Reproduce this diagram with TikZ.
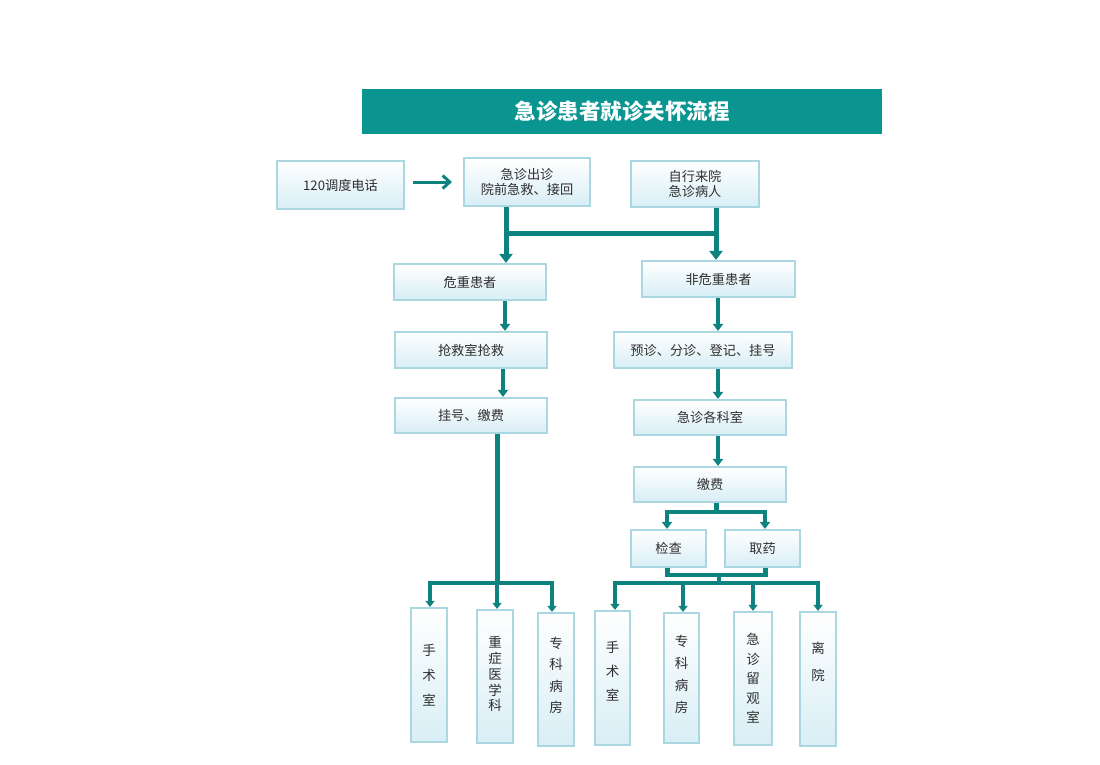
\documentclass[tikz,border=0pt]{standalone}
\usepackage{fontspec}
\setmainfont{Noto Sans CJK SC}
\usetikzlibrary{arrows.meta,calc}
\definecolor{tealline}{HTML}{0E827E}
\definecolor{titlebg}{HTML}{0B9591}
\definecolor{boxline}{HTML}{AAD7E2}
\definecolor{boxfill}{HTML}{D8EEF5}
\definecolor{txt}{HTML}{2E2E2E}
\begin{document}
\begin{tikzpicture}[x=1pt,y=-1pt,
  box/.style={draw=boxline, line width=2.2pt, top color=white, bottom color=boxfill,
    text=txt, font=\fontsize{13.2}{15.5}\selectfont, align=center, inner sep=0pt},
  vbox/.style={box, minimum width=36pt, minimum height=134pt},
  lineseg/.style={draw=tealline, line width=5pt},
  conn/.style={draw=tealline, line width=5pt, line join=miter, -{Triangle[width=13pt,length=9pt]}},
  connm/.style={draw=tealline, line width=4.5pt, line join=miter, -{Triangle[width=10pt,length=7pt]}},
  conns/.style={draw=tealline, line width=4pt, line join=miter, -{Triangle[width=9pt,length=6pt]}},
  thinarr/.style={draw=tealline, line width=3pt, -{Straight Barb[width=13pt,length=7pt,line width=3pt]}}
]
\useasboundingbox (0,0) rectangle (1100,764);

% title
\node[fill=titlebg, minimum width=520pt, minimum height=45pt, inner sep=0pt,
  text=white, font=\fontsize{21.5}{24}\selectfont\bfseries] (title) at (622,111.5) {急诊患者就诊关怀流程};

% top row
\node[box, minimum width=127pt, minimum height=48pt] (n120) at (340.5,185) {120调度电话};
\node[box, minimum width=126pt, minimum height=48pt] (ncz) at (527,182) {急诊出诊\\院前急救、接回};
\node[box, minimum width=128pt, minimum height=46pt] (nzx) at (695,184) {自行来院\\急诊病人};

% left column
\node[box, minimum width=152pt, minimum height=36pt] (nwz) at (470,282) {危重患者};
\node[box, minimum width=152pt, minimum height=36pt] (nqj) at (471,350) {抢救室抢救};
\node[box, minimum width=152pt, minimum height=35pt] (ngh) at (471,415.5) {挂号、缴费};

% right column
\node[box, minimum width=153pt, minimum height=36pt] (nfw) at (718.5,279) {非危重患者};
\node[box, minimum width=178pt, minimum height=36pt] (nyz) at (703,350) {预诊、分诊、登记、挂号};
\node[box, minimum width=152pt, minimum height=35pt] (nks) at (710,417.5) {急诊各科室};
\node[box, minimum width=152pt, minimum height=35pt] (njf) at (710,484.5) {缴费};
\node[box, minimum width=75pt, minimum height=37pt] (njc) at (668.5,548.5) {检查};
\node[box, minimum width=75pt, minimum height=37pt] (nqy) at (762.5,548.5) {取药};

% bottom boxes
\node[vbox, font=\fontsize{13.5}{25}\selectfont] (b1) at (429,675) {手\\术\\室};
\node[vbox, minimum height=133pt, font=\fontsize{13.5}{15.8}\selectfont] (b2) at (495,676.5) {重\\症\\医\\学\\科\\[-10pt]\mbox{}};
\node[vbox, minimum height=133pt, font=\fontsize{13.5}{21.5}\selectfont] (b3) at (556,679.5) {专\\科\\病\\房\\[-12pt]\mbox{}};
\node[vbox, minimum width=35pt, font=\fontsize{13.5}{24}\selectfont] (b4) at (612.5,678) {手\\术\\室\\[-10pt]\mbox{}};
\node[vbox, minimum width=35pt, minimum height=130pt, font=\fontsize{13.5}{22}\selectfont] (b5) at (681.5,678) {专\\科\\病\\房\\[-14pt]\mbox{}};
\node[vbox, minimum width=38pt, minimum height=133pt, font=\fontsize{13.5}{19.5}\selectfont] (b6) at (753,678.5) {急\\诊\\留\\观\\室};
\node[vbox, font=\fontsize{13.5}{27}\selectfont] (b7) at (818,679) {离\\院\\[8pt]\mbox{}};

% coordinates for junctions
\coordinate (jl) at (506,233);
\coordinate (jr) at (716,233);
\coordinate (cl1) at (505,0);
\coordinate (cl2) at (503,0);
\coordinate (hl) at (497,583);
\coordinate (hl1) at (430,583);
\coordinate (hl3) at (552,583);
\coordinate (cr) at (718,0);
\coordinate (jf) at (716,512);
\coordinate (jf1) at (667,512);
\coordinate (jf2) at (765,512);
\coordinate (jc) at (719,575);
\coordinate (hr) at (719,583);
\coordinate (hr1) at (615,583);
\coordinate (hr2) at (683,583);
\coordinate (hr3) at (753,583);
\coordinate (hr4) at (818,583);

% connectors top
\draw[thinarr] ($(n120.east)+(8,-3)$) -- ($(ncz.west)+(-11,0)$);
\draw[conn] (ncz.south -| jl) -- (jl |- nwz.north);
\draw[conn] (nzx.south -| jr) -- (jr |- nfw.north);
\draw[lineseg] (jl) -- (jr);

% left column
\draw[connm] (nwz.south -| cl1) -- (nqj.north -| cl1);
\draw[connm] (nqj.south -| cl2) -- (ngh.north -| cl2);
\draw[lineseg] (ngh.south -| hl) -- (hl);
\draw[conns] (hl) -- (hl1) -- (hl1 |- b1.north);
\draw[conns] (hl) -- (hl |- b2.north);
\draw[conns] (hl) -- (hl3) -- (hl3 |- b3.north);

% right column
\draw[connm] (nfw.south -| cr) -- (nyz.north -| cr);
\draw[connm] (nyz.south -| cr) -- (nks.north -| cr);
\draw[connm] (nks.south -| cr) -- (njf.north -| cr);
\draw[lineseg] (njf.south -| jf) -- (jf);
\draw[connm] (jf) -- (jf1) -- (jf1 |- njc.north);
\draw[connm] (jf) -- (jf2) -- (jf2 |- nqy.north);
\draw[draw=tealline, line width=4.5pt, line join=miter] ($(njc.south)+(-1,0)$) |- (jc) -| ($(nqy.south)+(3,0)$);
\draw[draw=tealline, line width=4pt] (jc) -- (hr);
\draw[conns] (hr) -- (hr1) -- (hr1 |- b4.north);
\draw[conns] (hr) -- (hr2) -- (hr2 |- b5.north);
\draw[conns] (hr) -- (hr3) -- (hr3 |- b6.north);
\draw[conns] (hr) -- (hr4) -- (hr4 |- b7.north);
\end{tikzpicture}
\end{document}
